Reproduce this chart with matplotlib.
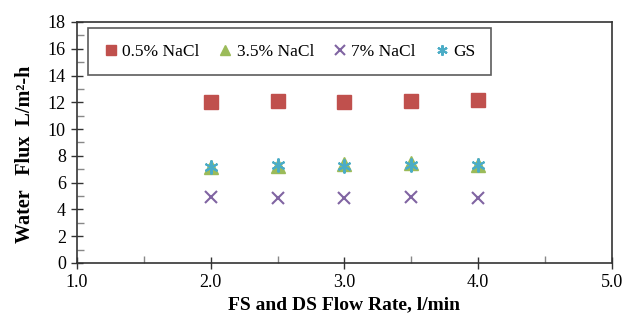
import matplotlib
matplotlib.use("Agg")
import matplotlib.pyplot as plt
from matplotlib.ticker import MultipleLocator, FormatStrFormatter

plt.rcParams['font.family'] = ['Liberation Serif', 'DejaVu Serif']

# data
flow = [2.0, 2.5, 3.0, 3.5, 4.0]
nacl_05 = [12.05, 12.1, 12.05, 12.1, 12.2]
nacl_35 = [7.2, 7.25, 7.42, 7.45, 7.3]
nacl_7 = [4.92, 4.85, 4.85, 4.95, 4.85]
gs = [7.2, 7.3, 7.25, 7.35, 7.35]

fig = plt.figure(figsize=(6.25, 3.21), dpi=100)
ax = fig.add_axes([0.1232, 0.1807, 0.8558, 0.7508])

ax.plot(flow, nacl_05, ls='none', marker='s', ms=9.5, color='#C0504D', label='0.5% NaCl')
ax.plot(flow, nacl_35, ls='none', marker='^', ms=9.5, color='#9BBB59', label='3.5% NaCl')
ax.plot(flow, nacl_7, ls='none', marker='x', ms=9, mew=1.5, color='#8064A2', label='7% NaCl')
ax.plot(flow, gs, ls='none', marker=(6, 2, 0), ms=10, mew=1.5, color='#4BACC6', label='GS')

ax.set_xlim(1.0, 5.0)
ax.set_ylim(0, 18)
ax.xaxis.set_major_locator(MultipleLocator(1.0))
ax.xaxis.set_minor_locator(MultipleLocator(0.5))
ax.yaxis.set_major_locator(MultipleLocator(2))
ax.yaxis.set_minor_locator(MultipleLocator(1))
ax.xaxis.set_major_formatter(FormatStrFormatter('%.1f'))
ax.tick_params(which='major', direction='inout', length=9, width=1, labelsize=13, colors='#333333', labelcolor='black')
ax.tick_params(which='minor', direction='in', length=5, width=1, colors='#888888')
ax.tick_params(axis='x', which='both', top=False)
ax.tick_params(axis='y', which='both', right=False)
for s in ax.spines.values():
    s.set_color('#333333')
    s.set_linewidth(1.2)

ax.set_xlabel('FS and DS Flow Rate, l/min', fontsize=14, fontweight='bold', labelpad=4)
ax.set_ylabel('Water   Flux  L/m²-h', fontsize=14.5, fontweight='bold')
ax.yaxis.set_label_coords(-0.078, 0.45)

leg = ax.legend(ncol=4, loc='upper left', bbox_to_anchor=(0.0206, 0.975), borderaxespad=0,
                fontsize=12.5, frameon=True, fancybox=False, markerscale=0.75,
                handlelength=0.8, handletextpad=0.25, columnspacing=1.1, borderpad=0.9)
leg.get_frame().set_edgecolor('#333333')
leg.get_frame().set_linewidth(1.2)

fig.savefig('out.png', dpi=100)
